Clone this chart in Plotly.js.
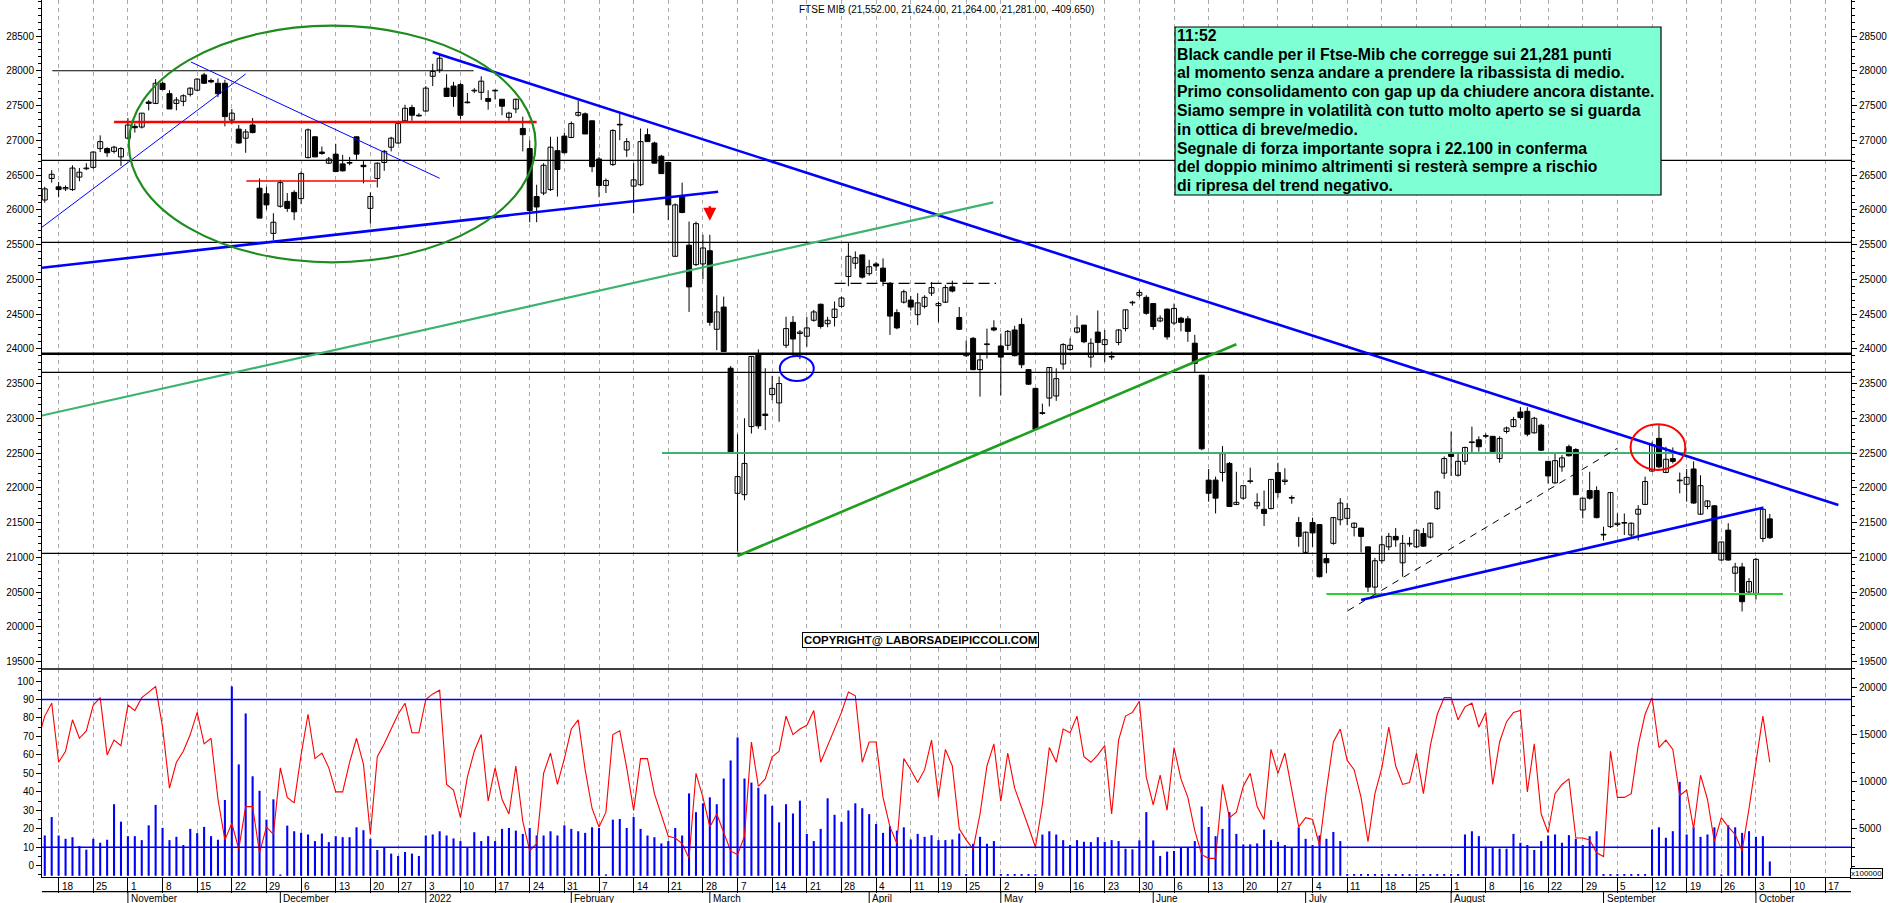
<!DOCTYPE html>
<html>
<head>
<meta charset="utf-8">
<script src="https://cdn.plot.ly/plotly-3.0.1.min.js"></script>
<style>
html,body{margin:0;padding:0;background:#fff;}
#chart{width:1890px;height:903px;}
</style>
</head>
<body>
<div id="chart"></div>
<script>
// ---------- DATA (trading-day index 0 = Mon 18 Oct 2021) ----------
const candleStart = -2;   // first candle: 14 Oct 2021
const oscStart = -3;      // oscillator starts one day earlier (clipped at the axis)

const openP = [
26140,26450,26330,26300,26290,26470,26590,26610,26880,26880,
26840,26760,27030,27200,27190,27550,27530,27820,27670,27530,
27560,27660,27720,27940,27860,27820,27820,27290,27160,27030,
27220,26310,26230,25660,26050,26120,26250,26160,26750,27050,
26830,26670,26800,26660,26670,27050,26640,26020,26450,26680,
26900,26960,27280,27470,27360,27420,27920,28010,27750,27780,
27800,27550,27710,27690,27600,27710,27590,27330,27450,27170,
26880,26190,26240,26290,26850,27060,27040,27360,27380,27280,
26730,26350,26650,27230,26860,26340,26360,27080,26960,26770,
26680,25330,26200,25490,25210,25220,25410,24280,24600,23720,
21920,21900,22880,23930,23060,23340,23220,24050,24380,24220,
24180,24410,24640,24360,24450,24610,25040,25230,25350,25080,
25220,25160,24940,24520,24670,24700,24490,24610,24800,24620,
24670,24890,24450,23900,24150,23700,24060,24300,24040,24050,
24270,24350,23700,23430,23080,23290,23320,23780,23990,24240,
24340,23880,24240,24060,23890,24090,24290,24660,24770,24740,
24650,24400,24570,24370,24440,24430,24080,23620,22110,22110,
22220,22350,21760,21850,22090,21740,21690,21700,22220,22090,
21860,21500,21070,21500,21470,20980,21200,21540,21560,21430,
21420,21150,20570,20950,21150,21300,20920,21190,21150,21340,
21290,21700,22210,22490,22180,22380,22650,22690,22740,22740,
22420,22810,22880,23090,23100,22790,22900,22380,22070,22300,
22590,22550,21680,21960,21960,21330,21440,21470,21490,21320,
21620,21760,22240,22710,22220,22420,22100,22050,22270,21620,
21730,21740,20960,21390,20770,20860,20500,20480,21270,21552];

const highP = [
26330,26570,26400,26350,26640,26600,26670,26840,27070,26900,
26920,26900,27320,27240,27390,27580,27880,27840,27720,27620,
27660,27760,27890,27970,27890,27890,27870,27450,27220,27160,
27320,26450,26330,25950,26430,26240,26280,26550,27170,27060,
26910,26760,26950,26790,26760,27050,26710,26250,26680,26860,
27050,27270,27510,27510,27390,27780,28100,28230,27950,27840,
27820,27680,27750,27920,27720,27730,27590,27410,27600,27340,
27000,26360,26670,27050,27050,27110,27270,27570,27400,27280,
26760,26450,27160,27390,27030,26670,27170,27170,26980,26790,
26680,26090,26390,25830,25830,25640,25640,24770,24750,23750,
22770,23000,23890,23990,23720,23610,23600,24460,24470,24270,
24460,24560,24650,24460,24680,24750,25520,25400,25350,25280,
25250,25300,24960,24570,24850,24760,24800,24770,24960,24680,
24920,24980,24600,24120,24170,23910,24290,24410,24220,24270,
24330,24440,23700,23430,23210,23730,23720,24080,24150,24480,
24340,24150,24550,24270,23960,24280,24560,24690,24850,24770,
24650,24480,24580,24650,24460,24470,24200,23620,22270,22160,
22600,22370,22230,22030,22290,21920,21960,22120,22360,22280,
21890,21580,21370,21570,21470,21050,21580,21850,21780,21500,
21420,21150,20990,21310,21350,21420,21320,21290,21400,21420,
21500,21960,22450,22810,22500,22590,22880,22740,22780,22740,
22740,22880,23020,23160,23160,23020,22920,22380,22500,22470,
22620,22570,21850,22230,22020,21440,21940,21630,21630,21500,
21750,22160,22660,22900,22590,22580,22220,22270,22380,22180,
21820,21750,21220,21490,20920,20920,20700,20990,21730,21624];

const lowP = [
26100,26390,26180,26270,26270,26410,26570,26590,26830,26760,
26810,26630,27030,27110,27170,27430,27520,27720,27450,27430,
27490,27630,27710,27810,27820,27620,27200,27230,26950,26820,
27100,25880,26000,25560,26030,25970,25850,26080,26740,26760,
26790,26660,26540,26550,26640,26720,26380,25800,26320,26560,
26840,26950,27270,27280,27340,27410,27780,27970,27630,27480,
27300,27530,27680,27580,27440,27590,27360,27280,27390,26840,
25820,25820,26210,26270,26190,26810,27030,27340,27090,26540,
26180,26240,26630,27000,26760,25950,26340,26980,26670,26520,
25850,25330,25950,24530,25190,25000,24330,23980,23960,22500,
21080,21820,22780,22850,22830,23260,22950,24010,23890,23850,
24030,24390,24290,24310,24320,24590,24900,25150,25010,25050,
25120,24900,24200,24280,24650,24550,24340,24580,24760,24380,
24660,24810,24270,23880,23690,23310,23860,24250,23330,23980,
23890,23720,23480,22840,23050,23170,23250,23700,23970,24220,
24080,23730,23940,23810,23840,24050,24250,24620,24740,24490,
24270,24380,24130,24340,24250,24100,23660,22540,21800,21630,
22090,21730,21750,21830,22060,21690,21450,21690,21860,22040,
21770,21150,21050,21150,20710,20770,21180,21460,21460,21300,
21070,20500,20480,20910,21100,21150,20720,21150,21130,21150,
21270,21680,22130,22170,22160,22330,22510,22520,22710,22500,
22360,22780,22870,22980,22740,22780,22530,22060,22060,22230,
22450,21900,21560,21830,21560,21240,21420,21440,21320,21290,
21240,21750,22230,22280,22210,22350,21920,21800,21770,21610,
21690,21060,20950,20950,20500,20220,20460,20390,21220,21264];

const closeP = [
26300,26510,26290,26320,26600,26540,26600,26830,26980,26820,
26900,26880,27220,27180,27390,27530,27820,27730,27450,27580,
27640,27750,27880,27820,27840,27670,27340,27390,26960,27120,
27110,25880,26070,25820,26390,26020,25970,26520,27150,26760,
26810,26730,26550,26560,26680,26800,26620,26190,26670,26840,
27030,27240,27460,27360,27350,27750,27990,28180,27630,27630,
27360,27540,27720,27850,27560,27710,27490,27390,27590,27080,
25990,26040,26640,26900,26580,26820,27240,27400,27090,26620,
26350,26420,27140,27220,26980,26430,26980,26980,26670,26520,
26070,26070,25960,24890,25800,25450,24380,24530,23960,22500,
22160,22350,23890,22890,23040,23430,23500,24290,24140,24240,
24300,24530,24320,24410,24570,24730,25330,25310,25030,25180,
25190,24970,24470,24300,24820,24600,24660,24740,24880,24650,
24880,24830,24280,23920,23700,23840,24070,24270,23880,24250,
23900,23770,23490,22840,23070,23730,23570,24060,24050,24300,
24100,24080,24090,24130,23880,24270,24560,24670,24810,24510,
24320,24440,24170,24580,24380,24250,23790,22560,21920,21850,
22490,21730,21790,22030,22090,21790,21630,22120,21930,22110,
21850,21300,21360,21350,20720,20920,21570,21780,21700,21490,
21300,20570,20950,21180,21300,21250,21200,21200,21390,21160,
21490,21940,22420,22450,22380,22580,22660,22590,22750,22520,
22710,22860,22980,23010,22770,23000,22540,22170,22390,22430,
22460,21900,21850,21850,21570,21320,21930,21490,21490,21490,
21690,22090,22620,22300,22410,22380,22110,22150,21780,22030,
21810,21060,21220,20960,20860,20360,20650,20970,21690,21281];

// volume, in units of 100000 (right axis of lower panel)
const volume = [
4280,6240,4280,3930,4100,3160,2780,3930,3510,3830,
7600,5750,4210,4210,3790,5360,7530,5090,3790,4140,
3270,4980,4530,5190,4210,3830,8050,20110,11830,17240,
10570,9030,5960,8120,150,5330,4730,4560,4390,3690,
4490,3580,4210,4100,4100,5150,4840,3930,2740,2990,
2360,2110,2530,2360,2110,4280,4390,4730,4280,3970,
3690,2990,4630,3690,4210,3690,4980,5080,4800,4450,
5080,4280,4280,4730,4280,5360,4980,4730,4560,5150,
5080,150,5960,6030,5080,6240,4980,4280,4100,3440,
3690,5080,4280,8750,6760,7700,8330,7600,10330,12250,
14690,10330,9900,9350,8650,7430,5680,7600,6620,7980,
4450,3690,4980,8230,6480,5710,6940,7700,7180,6550,
5500,4560,5260,4800,5150,3860,4450,4140,4310,3790,
3790,3860,4490,190,3400,4140,3400,3690,190,190,
190,190,190,190,4380,4730,4380,3790,3260,3790,
3610,3580,4100,3610,3790,3690,2880,2810,3760,6760,
3760,2110,2570,2640,3060,2990,3690,7360,5190,4210,
4980,6760,4450,3340,3340,3440,4910,3790,3620,3270,
2990,5150,3930,3270,4280,3930,4660,3690,190,190,
190,190,190,190,190,190,190,190,190,190,
190,190,190,190,190,4390,4730,4210,3060,3060,
2880,2880,4450,3510,3270,2740,3690,4280,4390,3510,
4320,3930,3270,4210,4730,190,190,190,190,190,
190,190,4910,5150,4040,4740,9980,4390,5150,4140,
4390,5150,150,5360,5150,4560,4740,4140,4210,1520];

// oscillator 0-100 (left axis of lower panel)
const oscillator = [
68,81,88,56,62,79,69,73,87,91,
60,68,65,87,84,91,94,97,75,42,
56,62,71,83,66,69,36,14,23,9,
32,32,7,21,17,53,37,34,60,82,
58,61,53,40,40,56,69,55,17,59,
66,74,82,88,72,72,90,93,95,44,
41,26,48,62,71,35,53,36,28,54,
24,8,12,50,61,44,58,74,79,52,
31,21,29,71,73,53,30,58,58,39,
28,16,15,12,4,50,37,21,28,18,
8,6,16,67,43,47,59,62,81,71,
74,76,84,56,65,75,83,94,92,56,
67,67,37,21,12,58,52,45,52,68,
37,63,54,20,14,9,28,54,66,35,
61,42,32,21,10,33,64,56,74,72,
81,59,56,60,65,28,68,81,83,89,
48,33,49,30,64,47,37,19,6,4,
4,44,26,29,43,50,32,25,63,50,
61,41,21,26,25,11,41,67,74,57,
52,37,13,39,53,75,54,44,45,61,
39,65,82,91,91,79,86,88,75,83,
44,67,78,83,84,40,66,28,18,39,
44,47,15,15,14,7,5,62,37,37,
39,65,82,91,64,68,63,38,41,20,
49,36,13,26,21,17,8,31,57,81,
56];

// weekly ticks (first trading day of each week) and their labels
const weekTickIdx = [0,5,10,15,20,25,30,35,40,45,49,53,58,63,68,73,78,83,88,93,98,103,108,113,118,123,127,131,136,141,146,151,156,161,166,171,176,181,186,191,196,201,206,211,215,220,225,230,235,240,245,250,255];
const weekTickText = ['18','25','1','8','15','22','29','6','13','20','27','3','10','17','24','31','7','14','21','28','7','14','21','28','4','11','19','25','2','9','16','23','30','6','13','20','27','4','11','18','25','1','8','16','22','29','5','12','19','26','3','10','17'];
const monthIdx = [10,32,53,74,94,117,136,158,180,201,223,245];
const monthText = ['November','December','2022','February','March','April','May','June','July','August','September','October'];

const priceTicks = [19500,20000,20500,21000,21500,22000,22500,23000,23500,24000,24500,25000,25500,26000,26500,27000,27500,28000,28500];
const oscTicks = [0,10,20,30,40,50,60,70,80,90,100];
const volTicks = [5000,10000,15000,20000];
const oscBands = [10, 90];

// drawn studies (price levels and trendline end points: [x0, y0, x1, y1])
const fullLevelsThin = [26711, 25532, 23661, 21057];
const fullLevelThick = 23929;
const levelSegments = [
  {x0:-0.9, x1:59.9, y:28000, color:'#000000', w:1.2},
  {x0:8.0, x1:69.0, y:27263, color:'#ff0000', w:2.6},
  {x0:27.1, x1:45.9, y:26414, color:'#ff0000', w:1.4},
  {x0:87.1, x1:258.72, y:22500, color:'#3cb371', w:2.2},
  {x0:183.0, x1:248.9, y:20471, color:'#33cc33', w:2.2},
  {x0:112.0, x1:135.3, y:24942, color:'#000000', w:1.2, dash:'11px,5px'}
];
const trendSegments = [
  {p:[-2.4, 25749, 27.0, 27954], color:'#0000ff', w:1},
  {p:[19.1, 28126, 55.0, 26453], color:'#0000ff', w:1},
  {p:[-2.4, 25166, 95.2, 26260], color:'#0000ff', w:2.6},
  {p:[54.0, 28265, 256.9, 21752], color:'#0000ff', w:2.6},
  {p:[188.0, 20385, 246.0, 21713], color:'#0000ff', w:2.6},
  {p:[-2.4, 23039, 134.9, 26107], color:'#3cb371', w:2.2},
  {p:[98.0, 21018, 170.0, 24064], color:'#1f9e1f', w:2.6},
  {p:[186.1, 20231, 225.0, 22568], color:'#000000', w:1, dash:'7px,6px'}
];
const ellipses = [
  {p:[10.13, 25244, 68.85, 28648], color:'#1e8c1e', w:2.2},
  {p:[104.1, 23536, 109.0, 23896], color:'#0000ff', w:2},
  {p:[226.9, 22255, 234.8, 22913], color:'#ff0000', w:2}
];

const noteLines = [
  '11:52',
  'Black candle per il Ftse-Mib che corregge sui 21,281 punti',
  'al momento senza andare a prendere la ribassista di medio.',
  'Primo consolidamento con gap up da chiudere ancora distante.',
  'Siamo sempre in volatilità con tutto molto aperto se si guarda',
  'in ottica di breve/medio.',
  'Segnale di forza importante sopra i 22.100 in conferma',
  'del doppio minimo altrimenti si resterà sempre a rischio',
  'di ripresa del trend negativo.'
];
const titleText = 'FTSE MIB (21,552.00, 21,624.00, 21,264.00, 21,281.00, -409.650)';
const copyText = 'COPYRIGHT@ LABORSADEIPICCOLI.COM';

// ---------- BUILD ----------
const FONT = 'Arial, "Liberation Sans", sans-serif';
const X_RANGE = [-2.4, 258.72];
const SPLIT = 0.23717;
const PLOT_H = 877, PLOT_W = 1809;

const xs = openP.map((_, i) => candleStart + i);
const oscX = oscillator.map((_, i) => oscStart + i);
const bodyBase = openP.map((o, i) => Math.min(o, closeP[i]));
const bodyLen = openP.map((o, i) => Math.max(Math.abs(closeP[i] - o), 10));
const bodyFill = openP.map((o, i) => closeP[i] >= o ? '#ffffff' : '#000000');
const wickX = [], wickY = [];
xs.forEach((x, i) => { wickX.push(x, x, null); wickY.push(lowP[i], highP[i], null); });

const traces = [
  {type:'bar', x:xs, y:volume, xaxis:'x', yaxis:'y2', width:0.3, opacity:1,
   marker:{color:'#0000ff', opacity:1, line:{width:0}}, hoverinfo:'skip'},
  {type:'scatter', mode:'lines', x:oscX, y:oscillator, xaxis:'x', yaxis:'y3',
   line:{color:'#ff0000', width:1.1}, hoverinfo:'skip'},
  {type:'scatter', mode:'lines', x:wickX, y:wickY, xaxis:'x', yaxis:'y',
   line:{color:'#000000', width:1}, hoverinfo:'skip', connectgaps:false},
  {type:'bar', x:xs, y:bodyLen, base:bodyBase, xaxis:'x', yaxis:'y', width:0.72, opacity:1,
   marker:{color:bodyFill, opacity:1, line:{color:'#000000', width:1}}, hoverinfo:'skip'},
  {type:'scatter', mode:'markers', x:xs, y:closeP, xaxis:'x', yaxis:'y4',
   marker:{opacity:0, size:1}, hoverinfo:'skip'}
];

// helpers: pixel position (from the figure's top-left) to paper coordinates
const px2paperX = px => (px - 42) / PLOT_W;
const px2paperY = py => (PLOT_H - py) / PLOT_H;

const shapes = [];
shapes.push({type:'line', xref:'paper', yref:'paper', x0:0, x1:1, y0:SPLIT, y1:SPLIT, line:{color:'#000', width:1.6}});
fullLevelsThin.forEach(v => shapes.push({type:'line', xref:'paper', yref:'y', x0:0, x1:1, y0:v, y1:v, line:{color:'#000', width:1.3}}));
shapes.push({type:'line', xref:'paper', yref:'y', x0:0, x1:1, y0:fullLevelThick, y1:fullLevelThick, line:{color:'#000', width:2.6}});
levelSegments.forEach(s => shapes.push({type:'line', xref:'x', yref:'y', x0:s.x0, x1:s.x1, y0:s.y, y1:s.y, line:{color:s.color, width:s.w, dash:s.dash || 'solid'}}));
trendSegments.forEach(s => shapes.push({type:'line', xref:'x', yref:'y', x0:s.p[0], y0:s.p[1], x1:s.p[2], y1:s.p[3], line:{color:s.color, width:s.w, dash:s.dash || 'solid'}}));
ellipses.forEach(s => shapes.push({type:'circle', xref:'x', yref:'y', x0:s.p[0], y0:s.p[1], x1:s.p[2], y1:s.p[3], line:{color:s.color, width:s.w}, fillcolor:'rgba(0,0,0,0)'}));
oscBands.forEach(v => shapes.push({type:'line', xref:'paper', yref:'y3', x0:0, x1:1, y0:v, y1:v, line:{color:'#0000ff', width:1.5}}));
const ROW_LINE = -0.01676, BOTTOM = -0.0297;
shapes.push({type:'line', xref:'paper', yref:'paper', x0:0, x1:1, y0:ROW_LINE, y1:ROW_LINE, line:{color:'#000', width:1.3}});
monthIdx.forEach(m => shapes.push({type:'line', xref:'x', yref:'paper', x0:m, x1:m, y0:ROW_LINE, y1:BOTTOM, line:{color:'#000', width:1}}));
// comment box (drawn last so it hides the lines behind it)
const BOX = {left:1175, right:1661, top:27, bottom:195};
shapes.push({type:'rect', xref:'paper', yref:'paper', x0:px2paperX(BOX.left), x1:px2paperX(BOX.right),
  y0:px2paperY(BOX.bottom), y1:px2paperY(BOX.top), fillcolor:'#7fffd4', line:{color:'#000', width:1.2}});

const annotations = [];
annotations.push({xref:'paper', yref:'paper', x:0.5, y:1, xanchor:'center', yanchor:'top', yshift:-2,
  text:titleText, showarrow:false, font:{family:FONT, size:10, color:'#000'}});
const LINE_TOP = 35.3, LINE_STEP = 18.8;
noteLines.forEach((t, i) => annotations.push({xref:'paper', yref:'paper', x:px2paperX(BOX.left + 1), y:px2paperY(LINE_TOP + i * LINE_STEP),
  xanchor:'left', yanchor:'middle', text:'<b>' + t + '</b>', showarrow:false, borderpad:0,
  font:{family:FONT, size:15.8, color:'#000'}}));
annotations.push({xref:'paper', yref:'paper', x:px2paperX(920), y:px2paperY(639.5), xanchor:'center', yanchor:'middle',
  text:'<b>' + copyText + '</b>', showarrow:false, bgcolor:'#ffffff', bordercolor:'#000', borderwidth:1, borderpad:1,
  font:{family:FONT, size:11.4, color:'#000'}});
annotations.push({xref:'paper', yref:'paper', x:px2paperX(1866), y:px2paperY(873), xanchor:'center', yanchor:'middle',
  text:'x100000', showarrow:false, bgcolor:'#ffffff', bordercolor:'#000', borderwidth:1, borderpad:0,
  font:{family:FONT, size:8, color:'#000'}});
annotations.push({xref:'x', yref:'y', x:94, y:25843, ax:0, ay:-16, text:'', showarrow:true,
  arrowhead:2, arrowsize:1, arrowwidth:2.6, arrowcolor:'#ff0000'});
weekTickIdx.forEach((t, i) => annotations.push({xref:'x', yref:'paper', x:t, y:px2paperY(886), xanchor:'left', yanchor:'middle', xshift:1,
  text:weekTickText[i], showarrow:false, font:{family:FONT, size:10, color:'#000'}}));
monthIdx.forEach((m, i) => annotations.push({xref:'x', yref:'paper', x:m, y:px2paperY(898.2), xanchor:'left', yanchor:'middle', xshift:1,
  text:monthText[i], showarrow:false, font:{family:FONT, size:10, color:'#000'}}));

const yPriceBase = {range:[19392, 29018], tickmode:'array', tickvals:priceTicks, tickformat:'d', ticks:'outside', ticklen:5, tickwidth:1, tickcolor:'#000',
  minor:{dtick:100, tick0:19500, ticks:'outside', ticklen:3, tickcolor:'#000', showgrid:false},
  showgrid:false, zeroline:false, showline:true, linecolor:'#000', linewidth:1, tickfont:{family:FONT, size:10, color:'#000'}, fixedrange:true};

const layout = {
  width:1890, height:903,
  margin:{l:42, r:39, t:0, b:26, pad:0},
  paper_bgcolor:'#ffffff', plot_bgcolor:'#ffffff',
  showlegend:false, barmode:'overlay', hovermode:false,
  font:{family:FONT, size:10, color:'#000'},
  xaxis:{domain:[0,1], range:X_RANGE, anchor:'y2', tickmode:'array', tickvals:weekTickIdx, showticklabels:false,
    ticks:'outside', ticklen:15, tickwidth:1, tickcolor:'#000',
    showgrid:true, gridcolor:'#aaaaaa', griddash:'4px,4px', gridwidth:1,
    showline:true, linecolor:'#000', linewidth:1.3, zeroline:false, fixedrange:true},
  yaxis:Object.assign({}, yPriceBase, {domain:[SPLIT, 1], anchor:'x', side:'left'}),
  yaxis4:Object.assign({}, yPriceBase, {overlaying:'y', side:'right', anchor:'x'}),
  yaxis2:{domain:[0, SPLIT], anchor:'x', side:'right', range:[-126, 21960], tickmode:'array', tickvals:volTicks, tickformat:'d',
    ticks:'outside', ticklen:5, tickcolor:'#000', minor:{dtick:1000, tick0:0, ticks:'outside', ticklen:3, tickcolor:'#000', showgrid:false},
    showgrid:false, zeroline:false, showline:true, linecolor:'#000', tickfont:{family:FONT, size:10, color:'#000'}, fixedrange:true},
  yaxis3:{overlaying:'y2', anchor:'x', side:'left', range:[-6.1, 106.5], tickmode:'array', tickvals:oscTicks, tickformat:'d',
    ticks:'outside', ticklen:5, tickcolor:'#000', minor:{dtick:5, tick0:0, ticks:'outside', ticklen:3, tickcolor:'#000', showgrid:false},
    showgrid:false, zeroline:false, showline:true, linecolor:'#000', tickfont:{family:FONT, size:10, color:'#000'}, fixedrange:true},
  shapes:shapes,
  annotations:annotations
};

Plotly.newPlot('chart', traces, layout, {displayModeBar:false, staticPlot:true});
</script>
</body>
</html>
